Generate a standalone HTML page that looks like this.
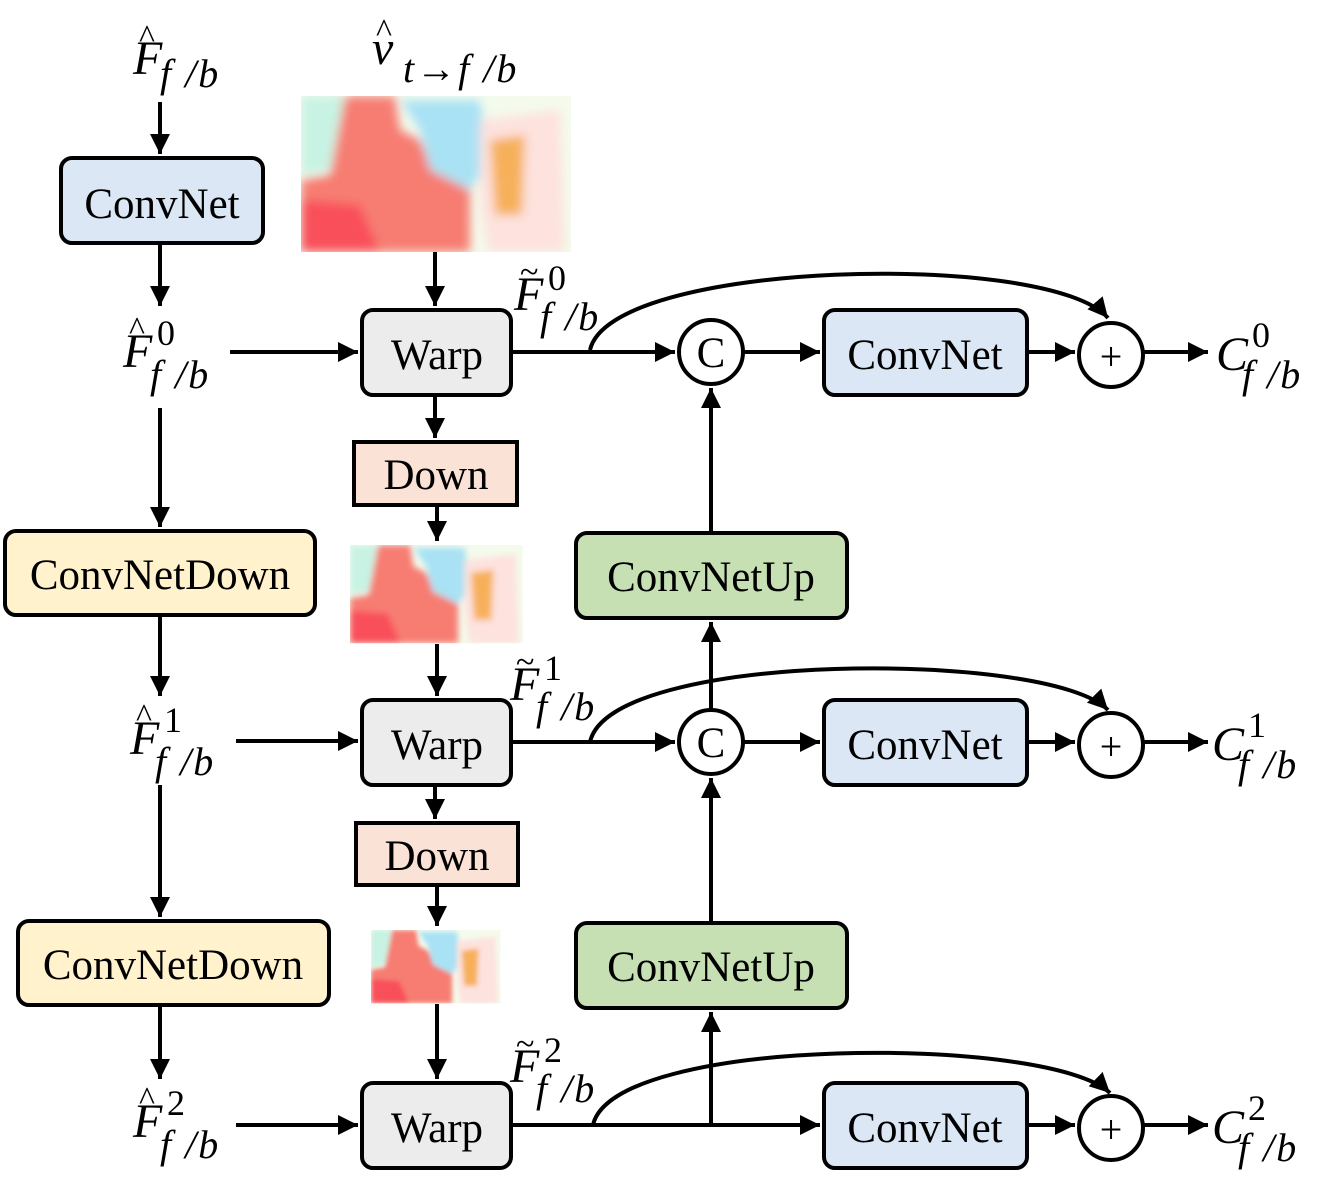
<!DOCTYPE html>
<html><head><meta charset="utf-8"><style>
html,body{margin:0;padding:0;background:#fff;}
svg text{font-family:"Liberation Serif",serif;}
.m{font-style:italic;font-size:48px;}
.s{font-style:italic;font-size:40px;letter-spacing:2px;}
.b{font-size:43px;}
</style></head><body>
<svg width="1329" height="1187" viewBox="0 0 1329 1187" xmlns="http://www.w3.org/2000/svg">
<defs>
<marker id="a" markerWidth="6" markerHeight="6" refX="5" refY="3" orient="auto" markerUnits="strokeWidth"><path d="M0,0.5 L5,3 L0,5.5 z" fill="#000"/></marker>
<filter id="bl"><feGaussianBlur stdDeviation="5"/></filter>
<clipPath id="c1"><rect x="301" y="96" width="270" height="156"/></clipPath>
</defs>
<g stroke="#000" stroke-width="4" fill="none" marker-end="url(#a)">
<line x1="160" y1="102" x2="160" y2="154"/>
<line x1="160" y1="245" x2="160" y2="306"/>
<line x1="230" y1="352" x2="358" y2="352"/>
<line x1="160" y1="408" x2="160" y2="527"/>
<line x1="160" y1="617" x2="160" y2="696"/>
<line x1="236" y1="741" x2="358" y2="741"/>
<line x1="160" y1="785" x2="160" y2="917"/>
<line x1="160" y1="1007" x2="160" y2="1079"/>
<line x1="236" y1="1125" x2="358" y2="1125"/>
<line x1="435" y1="252" x2="435" y2="306"/>
<line x1="435" y1="396" x2="435" y2="438"/>
<line x1="437" y1="506" x2="437" y2="541"/>
<line x1="437" y1="644" x2="437" y2="696"/>
<line x1="435" y1="786" x2="435" y2="819"/>
<line x1="437" y1="886" x2="437" y2="926"/>
<line x1="437" y1="1004" x2="437" y2="1079"/>
<line x1="511" y1="352" x2="675" y2="352"/>
<line x1="744" y1="352" x2="820" y2="352"/>
<line x1="1028" y1="352" x2="1075" y2="352"/>
<line x1="1144" y1="352" x2="1208" y2="352"/>
<line x1="511" y1="742" x2="675" y2="742"/>
<line x1="744" y1="742" x2="820" y2="742"/>
<line x1="1028" y1="742" x2="1075" y2="742"/>
<line x1="1144" y1="742" x2="1208" y2="742"/>
<line x1="511" y1="1125" x2="820" y2="1125"/>
<line x1="1028" y1="1125" x2="1075" y2="1125"/>
<line x1="1144" y1="1125" x2="1208" y2="1125"/>
<line x1="711" y1="533" x2="711" y2="388"/>
<line x1="711" y1="710" x2="711" y2="622"/>
<line x1="711" y1="923" x2="711" y2="778"/>
<line x1="711" y1="1125" x2="711" y2="1012"/>
<path d="M590,350 C610,260 1050,250 1108,318"/>
<path d="M590,742 C610,650 1050,650 1108,710"/>
<path d="M593,1125 C613,1035 1050,1035 1110,1093"/>
</g>
<g stroke="#000" stroke-width="4">
<rect x="61" y="158" width="202" height="85" rx="11" fill="#dbe7f4"/>
<rect x="362" y="310" width="149" height="85" rx="11" fill="#ececec"/>
<rect x="824" y="310" width="203" height="85" rx="11" fill="#dbe7f4"/>
<rect x="354" y="442" width="163" height="63" fill="#fbe2d6"/>
<rect x="5" y="531" width="310" height="84" rx="11" fill="#fff2cc"/>
<rect x="576" y="533" width="271" height="85" rx="11" fill="#c6e0b4"/>
<rect x="362" y="700" width="149" height="85" rx="11" fill="#ececec"/>
<rect x="824" y="700" width="203" height="85" rx="11" fill="#dbe7f4"/>
<rect x="356" y="823" width="162" height="62" fill="#fbe2d6"/>
<rect x="18" y="921" width="311" height="84" rx="11" fill="#fff2cc"/>
<rect x="576" y="923" width="271" height="85" rx="11" fill="#c6e0b4"/>
<rect x="362" y="1083" width="149" height="85" rx="11" fill="#ececec"/>
<rect x="824" y="1083" width="203" height="85" rx="11" fill="#dbe7f4"/>
<circle cx="711" cy="352" r="32" fill="#fff"/>
<circle cx="711" cy="742" r="32" fill="#fff"/>
<circle cx="1111" cy="355" r="32" fill="#fff"/>
<circle cx="1111" cy="745" r="32" fill="#fff"/>
<circle cx="1111" cy="1128" r="32" fill="#fff"/>
</g>
<g id="flow" clip-path="url(#c1)">
<rect x="301" y="96" width="270" height="156" fill="#f4fbec"/>
<g filter="url(#bl)">
<path d="M301,96 L345,96 L335,170 L301,175Z" fill="#c8f3e4"/>
<path d="M345,96 L395,96 L400,130 L420,140 L430,165 L470,190 L470,252 L301,252 L301,180 L330,175 Z" fill="#f77d72"/>
<path d="M301,200 L360,205 L380,252 L301,252Z" fill="#f9505a"/>
<path d="M400,100 L480,100 L490,160 L470,190 L430,170 L420,130Z" fill="#a9e2f4"/>
<path d="M480,120 L560,110 L565,252 L488,252 L480,200Z" fill="#fde2de"/>
<path d="M490,140 L525,135 L522,215 L495,215Z" fill="#f7b05a"/>
</g>
</g>
<use href="#flow" transform="translate(350,545) scale(0.64,0.63) translate(-301,-96)"/>
<use href="#flow" transform="translate(371,930) scale(0.48,0.47) translate(-301,-96)"/>
<g class="b" text-anchor="middle">
<text x="162" y="218">ConvNet</text>
<text x="437" y="369">Warp</text>
<text x="925" y="369">ConvNet</text>
<text x="436" y="489">Down</text>
<text x="160" y="589">ConvNetDown</text>
<text x="711" y="591">ConvNetUp</text>
<text x="437" y="759">Warp</text>
<text x="925" y="759">ConvNet</text>
<text x="437" y="870">Down</text>
<text x="173" y="979">ConvNetDown</text>
<text x="711" y="981">ConvNetUp</text>
<text x="437" y="1142">Warp</text>
<text x="925" y="1142">ConvNet</text>
<text x="711" y="367">C</text>
<text x="711" y="757">C</text>
<text x="1111" y="370" font-size="40">+</text>
<text x="1111" y="760" font-size="40">+</text>
<text x="1111" y="1143" font-size="40">+</text>
</g>
<g>
<text class="m" x="133" y="74">F</text><text x="139" y="48" font-size="34">^</text><text class="s" x="160" y="87">f /b</text>
<text class="m" x="372" y="64">v</text><text x="376" y="42" font-size="34">^</text><text class="s" x="403" y="82">t→f /b</text>
<text class="m" x="123" y="367">F</text><text x="129" y="340" font-size="34">^</text><text x="157" y="345" font-size="36">0</text><text class="s" x="150" y="388">f /b</text>
<text class="m" x="130" y="754">F</text><text x="136" y="727" font-size="34">^</text><text x="164" y="732" font-size="36">1</text><text class="s" x="155" y="775">f /b</text>
<text class="m" x="133" y="1137">F</text><text x="139" y="1110" font-size="34">^</text><text x="167" y="1115" font-size="36">2</text><text class="s" x="160" y="1158">f /b</text>
<text class="m" x="514" y="310">F</text><text x="520" y="283" font-size="34">~</text><text x="548" y="290" font-size="36">0</text><text class="s" x="540" y="330">f /b</text>
<text class="m" x="510" y="700">F</text><text x="516" y="673" font-size="34">~</text><text x="544" y="680" font-size="36">1</text><text class="s" x="536" y="720">f /b</text>
<text class="m" x="510" y="1082">F</text><text x="516" y="1055" font-size="34">~</text><text x="544" y="1062" font-size="36">2</text><text class="s" x="536" y="1102">f /b</text>
<text class="m" x="1216" y="370">C</text><text x="1252" y="347" font-size="36">0</text><text class="s" x="1242" y="388">f /b</text>
<text class="m" x="1212" y="760">C</text><text x="1248" y="737" font-size="36">1</text><text class="s" x="1238" y="778">f /b</text>
<text class="m" x="1212" y="1143">C</text><text x="1248" y="1120" font-size="36">2</text><text class="s" x="1238" y="1161">f /b</text>
</g>
</svg>
</body></html>
